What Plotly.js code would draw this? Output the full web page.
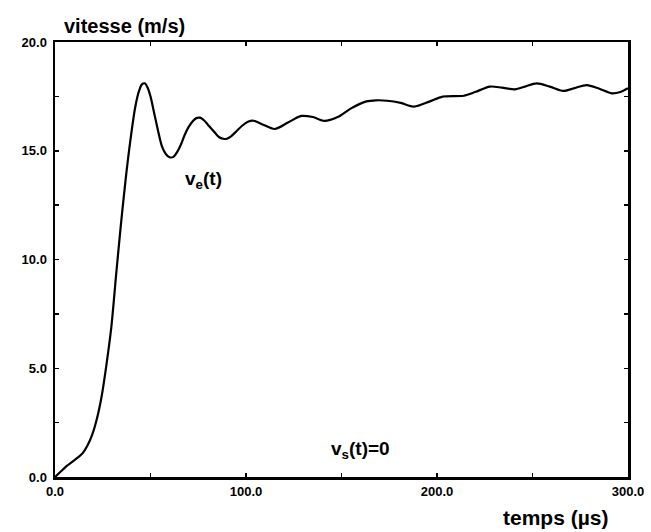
<!DOCTYPE html>
<html>
<head>
<meta charset="utf-8">
<script src="https://cdn.plot.ly/plotly-3.0.1.min.js"></script>
<style>html,body{margin:0;padding:0;background:#fff;}#chart{width:651px;height:532px;}</style>
</head>
<body>
<div id="chart"></div>
<script>
// temps (µs)
const t = [0, 3, 6, 9, 12, 14.5, 17, 19.5, 22, 24.5, 27, 29.5, 32, 34.5, 37, 39.5, 42, 44, 45.5, 47, 48.5, 50, 52, 54, 56, 58, 60, 62, 64, 66, 68, 70, 72, 74, 76, 78, 80, 82, 84, 86, 88, 90, 92, 95, 98, 101, 104, 109, 115, 122, 129, 135, 141, 148, 155, 163, 168, 174, 181, 188, 196, 203, 214, 220, 227.7, 234, 240.8, 246, 252.2, 259, 266.1, 272, 278.4, 285, 291.5, 296, 300];
// vitesse v_e(t) (m/s)
const ve = [0, 0.25, 0.5, 0.7, 0.9, 1.1, 1.45, 1.95, 2.7, 3.75, 5.2, 6.9, 9.3, 11.6, 13.7, 15.5, 17.0, 17.75, 18.05, 18.1, 17.9, 17.5, 16.7, 15.9, 15.2, 14.85, 14.7, 14.72, 14.95, 15.3, 15.75, 16.1, 16.35, 16.5, 16.52, 16.4, 16.2, 16.0, 15.8, 15.62, 15.55, 15.55, 15.65, 15.9, 16.15, 16.33, 16.38, 16.2, 16.0, 16.3, 16.6, 16.55, 16.37, 16.55, 16.95, 17.27, 17.32, 17.3, 17.2, 17.03, 17.26, 17.49, 17.53, 17.7, 17.95, 17.9, 17.82, 17.95, 18.1, 17.95, 17.75, 17.88, 18.02, 17.85, 17.64, 17.7, 17.87];
const xTickVals = [0, 50, 100, 150, 200, 250, 300];
const xTickText = ['0.0', '', '100.0', '', '200.0', '', '300.0'];
const yTickVals = [0, 2.5, 5, 7.5, 10, 12.5, 15, 17.5, 20];
const yTickText = ['0.0', '', '5.0', '', '10.0', '', '15.0', '', '20.0'];

const font = 'Liberation Sans, Arial, Helvetica, sans-serif';
const trace = {
  x: t, y: ve, type: 'scatter', mode: 'lines',
  line: {color: '#000', width: 2.2, shape: 'spline', smoothing: 0.8},
  hoverinfo: 'skip'
};
const axisCommon = {
  showgrid: false, zeroline: false, showline: true, linecolor: '#000', linewidth: 2.5,
  mirror: 'ticks', ticks: 'inside', ticklen: 4, tickwidth: 1.5, tickcolor: '#000',
  tickfont: {family: font, size: 13, color: '#000', weight: 'bold'}, tickmode: 'array'
};
const layout = {
  width: 651, height: 532,
  margin: {l: 55, r: 23, t: 42, b: 55},
  paper_bgcolor: '#fff', plot_bgcolor: '#fff',
  showlegend: false,
  xaxis: Object.assign({}, axisCommon, {range: [0, 300], tickvals: xTickVals, ticktext: xTickText, ticklabelstandoff: 1}),
  yaxis: Object.assign({}, axisCommon, {range: [0, 20], tickvals: yTickVals, ticktext: yTickText, ticklabelstandoff: 3}),
  annotations: [
    {text: 'vitesse (m/s)', xref: 'paper', yref: 'paper', x: 0.012, y: 1.0, xanchor: 'left', yanchor: 'bottom', yshift: 3, showarrow: false, font: {family: font, size: 20, color: '#000', weight: 'bold'}},
    {text: 'temps (µs)', xref: 'paper', yref: 'paper', x: 0.968, y: 0, xanchor: 'right', yanchor: 'top', yshift: -27, showarrow: false, font: {family: font, size: 21, color: '#000', weight: 'bold'}},
    {text: 'v<sub>e</sub>(t)', xref: 'x', yref: 'y', x: 78, y: 13.65, showarrow: false, font: {family: font, size: 19, color: '#000', weight: 'bold'}},
    {text: 'v<sub>s</sub>(t)=0', xref: 'x', yref: 'y', x: 160, y: 1.25, showarrow: false, font: {family: font, size: 19, color: '#000', weight: 'bold'}}
  ]
};
Plotly.newPlot('chart', [trace], layout, {displayModeBar: false, staticPlot: true});
</script>
</body>
</html>
